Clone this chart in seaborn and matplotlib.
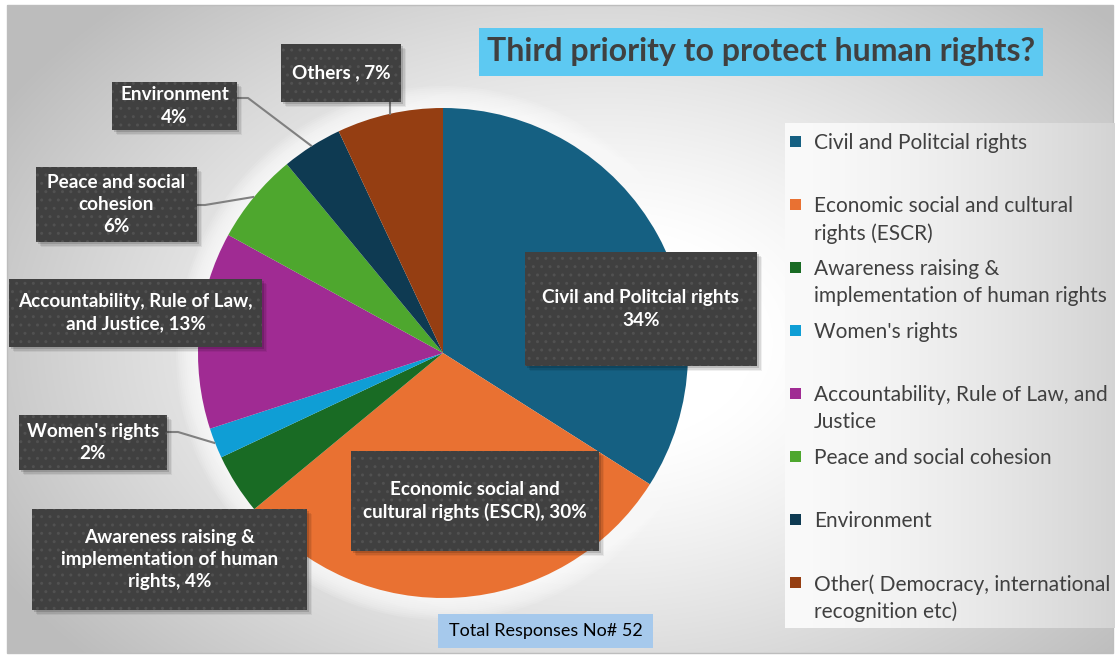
import numpy as np
import matplotlib
matplotlib.use("Agg")
import matplotlib.pyplot as plt
import seaborn as sns
from matplotlib.patches import Rectangle, Circle

# ---- data -------------------------------------------------------------
categories = [
    "Civil and Politcial rights",
    "Economic social and cultural rights (ESCR)",
    "Awareness raising & implementation of human rights",
    "Women's rights",
    "Accountability, Rule of Law, and Justice",
    "Peace and social cohesion",
    "Environment",
    "Other( Democracy, international recognition etc)",
]
shares = [34, 30, 4, 2, 13, 6, 4, 7]
slice_labels = [
    "Civil and Politcial rights\n{}%",
    "Economic social and\ncultural rights (ESCR), {}%",
    "Awareness raising &\nimplementation of human\nrights, {}%",
    "Women's rights\n{}%",
    "Accountability, Rule of Law,\nand Justice, {}%",
    "Peace and social\ncohesion\n{}%",
    "Environment\n{}%",
    "Others , {}%",
]
legend_labels = [
    "Civil and Politcial rights",
    "Economic social and cultural\nrights (ESCR)",
    "Awareness raising &\nimplementation of human rights",
    "Women's rights",
    "Accountability, Rule of Law, and\nJustice",
    "Peace and social cohesion",
    "Environment",
    "Other( Democracy, international\nrecognition etc)",
]
title_text = "Third priority to protect human rights?"
total_note = "Total Responses No# 52"

# ---- style ------------------------------------------------------------
sns.set_theme(style="white")
plt.rcParams["font.family"] = ["Lato", "DejaVu Sans"]
plt.rcParams["hatch.linewidth"] = 1.0
palette = sns.color_palette(["#156082", "#E97132", "#196B24", "#0F9ED5",
                             "#A02B93", "#4EA72E", "#0E3A52", "#953E12"])
text_grey = "#404040"

W, H = 1115, 655
fig = plt.figure(figsize=(W / 100, H / 100), dpi=100)
ax = fig.add_axes([0, 0, 1, 1])

# background: soft radial grey-to-white gradient inside a thin frame
yy, xx = np.mgrid[0:H, 0:W]
d = np.sqrt(((xx - 600) / 620.0) ** 2 + ((yy - 340) / 420.0) ** 2)
bg = np.clip(1.0 - 0.25 * np.clip(d - 0.25, 0, None) ** 1.2 / 0.85 ** 1.2, 0.74, 1.0)
ax.imshow(np.dstack([bg, bg, bg]), extent=(7, 1113, 653, 5), zorder=0,
          interpolation="bilinear")
ax.add_patch(Rectangle((7, 5), 1106, 648, fill=False, edgecolor="#bdbdbd",
                       lw=1.0, zorder=1))

# legend panel: horizontal white-to-grey gradient
lx0, ly0, lx1, ly1 = 785, 123, 1115, 628
gx = np.linspace(0, 1, 200)
panel = np.tile(0.98 - 0.15 * gx ** 1.5, (50, 1))
ax.imshow(np.dstack([panel, panel, panel]), extent=(lx0, lx1, ly1, ly0),
          zorder=1, interpolation="bilinear", aspect="auto")

# pie geometry
cx, cy, R = 443, 353, 245

# white glow around the pie
for k in range(12):
    ax.add_patch(Circle((cx, cy), R + 22 - k * 2, facecolor="white",
                        edgecolor="none", alpha=0.12, zorder=2))

wedges, _ = ax.pie(shares, colors=palette, startangle=-90, counterclock=True,
                   center=(cx, cy), radius=R,
                   wedgeprops=dict(linewidth=0, antialiased=True))
for w in wedges:
    w.set_zorder(3)

# mid-angle edge points for leader lines (screen: clockwise from top)
cum = np.cumsum([0] + shares[:-1])
mids = (cum + np.array(shares) / 2) / sum(shares) * 2 * np.pi
edge_pts = [(cx + R * np.sin(a), cy - R * np.cos(a)) for a in mids]

# data-label boxes (x0, y0, x1, y1)
boxes = [
    (525, 252, 757, 366),
    (351, 451, 599, 551),
    (32, 509, 307, 610),
    (19, 415, 167, 470),
    (9, 279, 262, 347),
    (36, 167, 197, 242),
    (112, 82, 237, 130),
    (281, 44, 401, 102),
]
# leader lines: start point on box and elbow length
leaders = {3: ((167, 432), 11), 5: ((197, 205), 8), 6: ((237, 98), 11)}

line_col = "#808080"
for i, (x0, y0, x1, y1) in enumerate(boxes):
    if i in leaders:
        (sx, sy), elbow = leaders[i]
        ex, ey = edge_pts[i]
        ax.plot([sx, sx + elbow, ex], [sy, sy, ey], color=line_col, lw=1.5,
                zorder=4, solid_capstyle="butt")
    if i == 7:
        ex, ey = edge_pts[i]
        ax.plot([ex, ex], [y1, ey], color=line_col, lw=1.5, zorder=4)
    # drop shadow
    for off, a in ((5, 0.06), (3.5, 0.09), (2, 0.14)):
        ax.add_patch(Rectangle((x0 + off, y0 + off), x1 - x0, y1 - y0,
                               facecolor="black", edgecolor="none", alpha=a,
                               zorder=5))
    ax.add_patch(Rectangle((x0, y0), x1 - x0, y1 - y0, facecolor="#404040",
                           edgecolor="none", lw=0, zorder=6))
    ax.add_patch(Rectangle((x0, y0), x1 - x0, y1 - y0, facecolor="none",
                           edgecolor="#515151", hatch="..", lw=0, zorder=6))
    ax.text((x0 + x1) / 2, (y0 + y1) / 2, slice_labels[i].format(shares[i]),
            ha="center", va="center", color="white", fontsize=13.6,
            fontweight="bold", linespacing=1.36, zorder=7)

# title
ax.add_patch(Rectangle((479, 28), 564, 48, facecolor="#5DC9F2",
                       edgecolor="none", zorder=5))
ax.text(761, 52, title_text, ha="center", va="center", color=text_grey,
        fontsize=23, fontweight="bold", zorder=6)

# legend entries: evenly spaced rows
for i, lab in enumerate(legend_labels):
    y = 141 + 63 * i
    ax.add_patch(Rectangle((790, y - 5.5), 11, 11, facecolor=palette[i],
                           edgecolor="none", zorder=5))
    ax.text(814, y - 8, lab, ha="left", va="top", color=text_grey,
            fontsize=15, linespacing=1.42, zorder=5)

# total responses note
ax.add_patch(Rectangle((438, 614), 215, 34, facecolor="#A6C9EC",
                       edgecolor="none", zorder=5))
ax.text(545.5, 631, total_note, ha="center", va="center", color="black",
        fontsize=13, zorder=6)

ax.set_xlim(0, W)
ax.set_ylim(H, 0)
ax.axis("off")
fig.savefig("out.png", dpi=100, facecolor="white")
